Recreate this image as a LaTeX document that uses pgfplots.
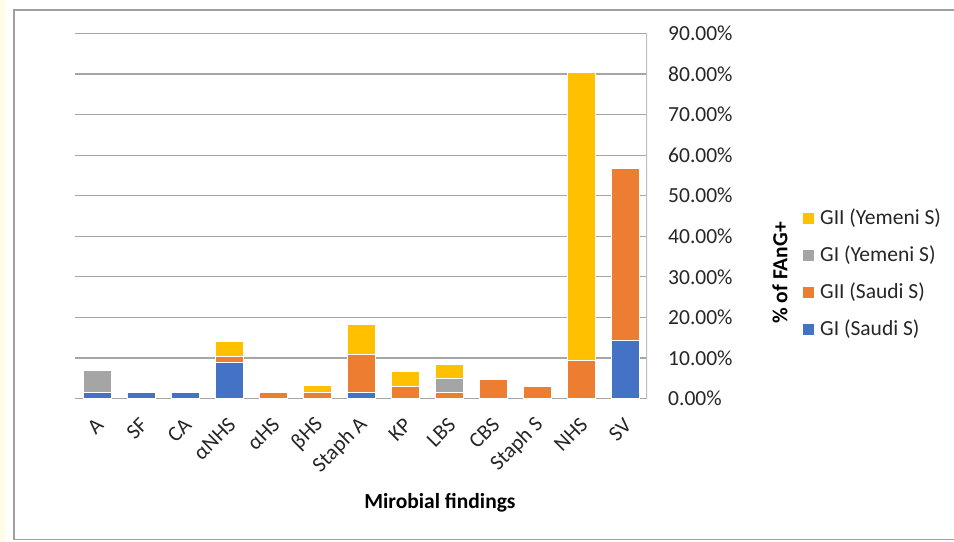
\documentclass[border=0pt]{standalone}
\usepackage{fontspec}
\setmainfont{Carlito}
\usepackage{pgfplots}
\pgfplotsset{compat=1.18}
\definecolor{cblue}{HTML}{4472C4}
\definecolor{corange}{HTML}{ED7D31}
\definecolor{cgray}{HTML}{A5A5A5}
\definecolor{cyellow}{HTML}{FFC000}
\definecolor{gridc}{HTML}{A6A6A6}
\definecolor{axisr}{HTML}{BFBFBF}
\definecolor{framec}{HTML}{A0A0A0}
\definecolor{stripc}{HTML}{FFFDE8}
\newcommand{\cf}{\fontsize{21.5bp}{26bp}\selectfont}
\begin{document}
\cf
\begin{tikzpicture}
\clip (0,0) rectangle (954bp,542bp);
\fill[white] (0,0) rectangle (954bp,542bp);
\fill[stripc] (0,0) rectangle (5bp,542bp);
\draw[framec, line width=1.5bp] (14bp,2.5bp) rectangle (975bp,532bp);
\begin{axis}[
  at={(75bp,143.5bp)}, anchor=south west,
  width=572bp, height=365bp, scale only axis,
  ybar stacked, bar width=28bp,
  xmin=-0.5, xmax=12.5, ymin=0, ymax=90,
  xtick={0,...,12},
  xticklabels={A,SF,CA,αNHS,αHS,βHS,Staph A,KP,LBS,CBS,Staph S,NHS,SV},
  ytick={0,10,...,90},
  yticklabels={0.00\%,10.00\%,20.00\%,30.00\%,40.00\%,50.00\%,60.00\%,70.00\%,80.00\%,90.00\%},
  yticklabel pos=right,
  axis line style={draw=none},
  major tick style={draw=none},
  ymajorgrids, grid style={gridc, line width=1.2bp},
  every tick label/.append style={font=\cf, text=black!85},
  yticklabel style={anchor=west, inner sep=0pt, xshift=21bp},
  xticklabel style={xshift=3bp, yshift=-23bp, rotate=45, anchor=east, inner sep=0pt},
  xlabel={\bfseries Mirobial findings},
  xlabel style={at={(rel axis cs:0.638,-0.286)}, anchor=center, font=\cf},
  ylabel={\bfseries \% of FAnG+},
  ylabel style={at={(rel axis cs:1.2325,0.344)}, anchor=center, font=\cf},
  reverse legend,
  legend image code/.code={\path[#1, draw=none] (0bp,-5.5bp) rectangle (11bp,5.5bp);},
  legend style={at={(1.2727,0.341)}, anchor=west, draw=none, fill=none, inner sep=0pt,
    row sep=18bp, font=\cf, text=black!85, cells={anchor=west},
    nodes={inner sep=0pt},
    /tikz/every odd column/.append style={column sep=6bp}},
  every axis plot/.append style={draw=white, line width=1bp},
]
\addplot[fill=cblue] coordinates {(0,1.37) (1,1.37) (2,1.37) (3,8.8) (4,0) (5,0) (6,1.37) (7,0) (8,0) (9,0) (10,0) (11,0) (12,14.2)};
\addlegendentry{GI (Saudi S)}
\addplot[fill=corange] coordinates {(0,0) (1,0) (2,0) (3,1.6) (4,1.37) (5,1.37) (6,9.6) (7,2.9) (8,1.37) (9,4.6) (10,2.9) (11,9.3) (12,42.6)};
\addlegendentry{GII (Saudi S)}
\addplot[fill=cgray] coordinates {(0,5.5) (1,0) (2,0) (3,0) (4,0) (5,0) (6,0) (7,0) (8,3.6) (9,0) (10,0) (11,0) (12,0)};
\addlegendentry{GI (Yemeni S)}
\addplot[fill=cyellow] coordinates {(0,0) (1,0) (2,0) (3,3.7) (4,0) (5,1.9) (6,7.2) (7,3.7) (8,3.5) (9,0) (10,0) (11,71.1) (12,0)};
\addlegendentry{GII (Yemeni S)}
\draw[axisr, line width=1.2bp] (rel axis cs:1,0) -- (rel axis cs:1,1);
\end{axis}
\end{tikzpicture}
\end{document}
